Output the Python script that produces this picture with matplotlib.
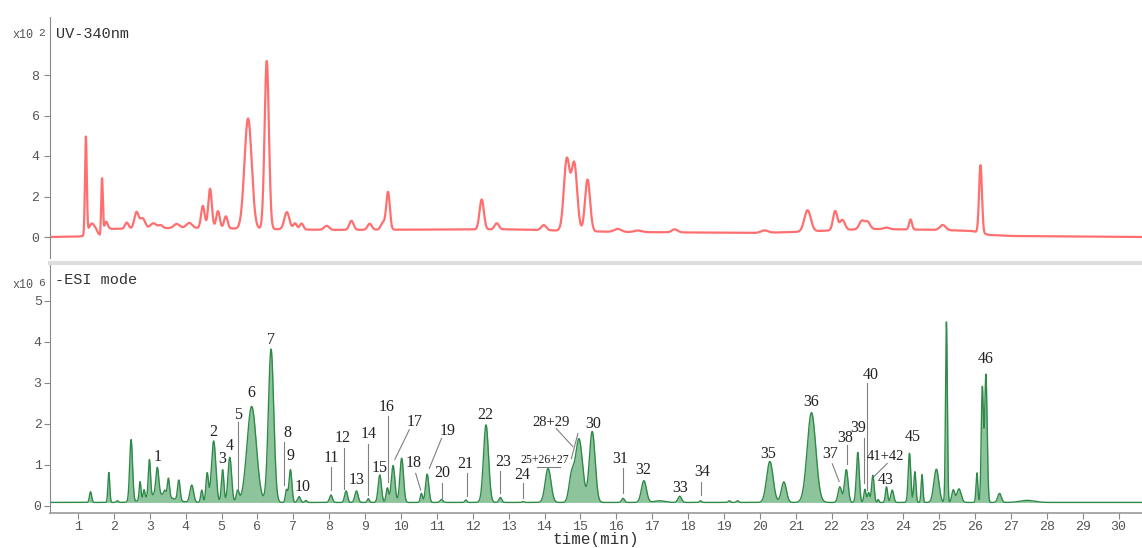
import matplotlib
matplotlib.use("Agg")
import matplotlib.pyplot as plt
import numpy as np

# ---- UV-340nm trace (x10^2): peak centre (min), height above baseline, width (min)
uv_rt = [1.22, 1.38, 1.67, 1.78, 2.36, 2.63, 2.80, 3.10, 3.30, 3.75, 4.10,
         4.48, 4.68, 4.90, 5.12, 5.74, 6.26, 6.82, 7.05, 7.23, 7.93, 8.62,
         9.13, 9.50, 9.64, 12.25, 12.67, 13.98, 14.62, 14.83, 15.20, 16.04,
         16.60, 17.63, 20.13, 21.33, 22.10, 22.30, 22.84, 23.00, 23.53,
         24.20, 25.10, 26.15]
uv_h = [4.80, 0.45, 2.75, 0.50, 0.30, 0.80, 0.50, 0.25, 0.15, 0.20, 0.25,
        1.10, 1.95, 0.85, 0.60, 5.45, 8.30, 0.85, 0.30, 0.30, 0.20, 0.45,
        0.30, 0.35, 1.85, 1.48, 0.30, 0.25, 3.50, 3.30, 2.55, 0.15,
        0.08, 0.15, 0.12, 1.05, 0.95, 0.50, 0.40, 0.35, 0.08,
        0.50, 0.25, 3.35]
uv_w = [0.025, 0.08, 0.022, 0.05, 0.05, 0.06, 0.07, 0.08, 0.06, 0.08, 0.08,
        0.05, 0.05, 0.05, 0.05, 0.10, 0.06, 0.07, 0.05, 0.05, 0.07, 0.06,
        0.06, 0.06, 0.05, 0.06, 0.06, 0.07, 0.08, 0.08, 0.07, 0.10,
        0.10, 0.08, 0.10, 0.09, 0.06, 0.07, 0.07, 0.07, 0.08,
        0.04, 0.08, 0.04]
uv_base_t = [0.2, 1.0, 1.15, 1.5, 1.62, 1.9, 4.0, 8.0, 13.0, 16.0, 20.0,
             21.0, 23.0, 25.0, 25.9, 26.4, 27.0, 30.7]
uv_base_y = [0.0, 0.02, 0.05, 0.30, 0.05, 0.40, 0.45, 0.35, 0.38, 0.25, 0.20,
             0.25, 0.40, 0.35, 0.30, 0.10, 0.05, 0.0]

# ---- -ESI mode trace (x10^6)
esi_rt = [1.35, 1.86, 2.10, 2.48, 2.73, 2.84, 2.99, 3.21, 3.42, 3.52, 3.81,
          3.25, 4.17, 4.45, 4.60, 4.78, 5.03, 5.23, 5.45, 5.84, 6.38, 6.81,
          6.92, 7.16, 7.35, 8.05, 8.47, 8.76, 9.09, 9.41, 9.62, 9.78, 10.02,
          10.57, 10.73, 11.13, 11.81, 12.37, 12.77, 13.40, 14.10, 14.75,
          14.96, 15.33, 16.19, 16.77, 17.20, 17.77, 18.35, 19.15, 19.38,
          20.28, 20.67, 21.44, 22.23, 22.41, 22.73, 22.93, 23.03, 23.15,
          23.30, 23.53, 23.69, 24.17, 24.32, 24.52, 24.92, 25.20, 25.39,
          25.55, 26.05, 26.20, 26.30, 26.68, 27.45]
esi_h = [0.26, 0.73, 0.04, 1.52, 0.45, 0.22, 0.90, 0.66, 0.12, 0.45, 0.50,
         0.20, 0.42, 0.30, 0.71, 1.50, 0.80, 1.10, 0.28, 2.34, 3.74, 0.30,
         0.80, 0.14, 0.05, 0.18, 0.28, 0.28, 0.09, 0.67, 0.35, 0.90, 1.08,
         0.22, 0.69, 0.07, 0.06, 1.89, 0.12, 0.02, 0.83, 0.60,
         1.55, 1.73, 0.10, 0.53, 0.04, 0.15, 0.04, 0.04, 0.04,
         1.00, 0.50, 2.19, 0.38, 0.80, 1.22, 0.32, 0.24, 0.66,
         0.07, 0.38, 0.30, 1.20, 0.75, 0.68, 0.81, 4.41, 0.30,
         0.33, 0.72, 2.78, 3.12, 0.22, 0.05]
esi_w = [0.03, 0.025, 0.03, 0.04, 0.025, 0.025, 0.03, 0.04, 0.03, 0.03, 0.035,
         0.33, 0.05, 0.03, 0.035, 0.06, 0.035, 0.05, 0.04, 0.13, 0.075, 0.03,
         0.04, 0.04, 0.03, 0.04, 0.04, 0.045, 0.03, 0.045, 0.035, 0.05, 0.05,
         0.03, 0.045, 0.04, 0.03, 0.07, 0.04, 0.03, 0.08, 0.07,
         0.10, 0.08, 0.04, 0.07, 0.15, 0.05, 0.03, 0.03, 0.03,
         0.09, 0.07, 0.12, 0.05, 0.05, 0.04, 0.03, 0.03, 0.035,
         0.02, 0.03, 0.04, 0.035, 0.03, 0.025, 0.07, 0.025, 0.04,
         0.06, 0.025, 0.03, 0.035, 0.05, 0.20]
esi_base = 0.08

# ---- peak labels (text, x, y, size) and leader lines (x0, y0, x1, y1)
lab_text = ["1", "2", "3", "4", "5", "6", "7", "8", "9", "10", "11", "12",
            "13", "14", "15", "16", "17", "18", "19", "20", "21", "22", "23",
            "24", "25+26+27", "28+29", "30", "31", "32", "33", "34", "35",
            "36", "37", "38", "39", "40", "41+42", "43", "45", "46"]
lab_x = [3.21, 4.78, 5.02, 5.23, 5.45, 5.84, 6.38, 6.83, 6.92, 7.25, 8.05,
         8.37, 8.76, 9.09, 9.41, 9.60, 10.37, 10.34, 11.30, 11.15, 11.80,
         12.34, 12.85, 13.38, 14.02, 14.19, 15.35, 16.12, 16.75, 17.77,
         18.40, 20.23, 21.44, 21.97, 22.37, 22.74, 23.09, 23.50, 23.51,
         24.25, 26.29]
lab_y = [1.18, 1.80, 1.14, 1.46, 2.21, 2.74, 4.04, 1.78, 1.20, 0.46, 1.17,
         1.64, 0.63, 1.75, 0.91, 2.40, 2.03, 1.03, 1.83, 0.79, 1.02,
         2.21, 1.07, 0.75, 1.12, 2.02, 2.00, 1.13, 0.87, 0.44,
         0.81, 1.26, 2.54, 1.25, 1.66, 1.89, 3.19, 1.20, 0.63,
         1.67, 3.57]
lab_size = [11.5] * 24 + [8.5, 10.5] + [11.5] * 11 + [10.5] + [11.5] * 3
leaders = [(5.45, 2.05, 5.45, 0.38), (6.75, 1.56, 6.75, 0.50),
           (8.05, 0.94, 8.05, 0.38), (8.41, 1.41, 8.41, 0.40),
           (9.07, 1.50, 9.07, 0.26), (9.64, 2.19, 9.64, 0.59),
           (10.23, 1.85, 9.83, 1.13), (10.41, 0.79, 10.55, 0.38),
           (11.13, 1.64, 10.79, 0.91), (11.13, 0.56, 11.13, 0.20),
           (11.83, 0.79, 11.83, 0.24), (12.77, 0.85, 12.77, 0.30),
           (13.40, 0.56, 13.40, 0.18), (13.78, 0.95, 14.43, 0.95),
           (14.33, 1.88, 14.79, 1.44), (14.93, 1.76, 14.75, 1.15),
           (16.19, 0.91, 16.19, 0.32), (18.35, 0.59, 18.35, 0.26),
           (22.02, 1.02, 22.21, 0.59), (22.43, 1.48, 22.43, 1.02),
           (22.90, 1.64, 22.90, 0.56), (22.98, 3.00, 22.98, 0.38),
           (23.55, 1.03, 23.18, 0.71)]

x_ticks = list(range(1, 31))


def trace(t, rt, h, w):
    y = np.zeros_like(t)
    for c, a, s in zip(rt, h, w):
        y += a * np.exp(-0.5 * ((t - c) / s) ** 2)
    return y


t = np.linspace(0.22, 30.65, 8000)
uv = np.interp(t, uv_base_t, uv_base_y) + trace(t, uv_rt, uv_h, uv_w)
esi = esi_base + trace(t, esi_rt, esi_h, esi_w)

mono = "Liberation Mono"
serif = "Liberation Serif"
tick_col = "#555555"

fig = plt.figure(figsize=(11.42, 5.48), dpi=100)
W, H = 1142.0, 548.0

# top panel
ax1 = fig.add_axes([50 / W, 1 - 258 / H, (1142 - 50) / W, (258 - 17) / H])
ax1.plot(t, uv, color="#ff6f6f", lw=1.6)
ax1.set_xlim(0.22, 30.65)
ax1.set_ylim((237 - 258) / 20.25, (237 - 17) / 20.25)
ax1.set_yticks([0, 2, 4, 6, 8])
ax1.set_xticks([])
for s in ["top", "right", "bottom"]:
    ax1.spines[s].set_visible(False)
ax1.spines["left"].set_color("#888888")
ax1.tick_params(axis="y", direction="out", length=4, color="#888888",
                labelcolor=tick_col, labelsize=9.5)
for lb in ax1.get_yticklabels():
    lb.set_family(mono)
fig.text(12 / W, 1 - 38 / H, "x10", fontsize=8.5, family=mono, color=tick_col)
fig.text(38 / W, 1 - 36 / H, "2", fontsize=8, family=mono, color=tick_col)
fig.text(56 / W, 1 - 38 / H, "UV-340nm", fontsize=11, family=mono, color="#333333")

# bottom panel
ax2 = fig.add_axes([50 / W, 1 - 512.7 / H, (1142 - 50) / W, (512.7 - 263) / H])
ax2.plot(t, esi, color="#2f8a4a", lw=1.0)
ax2.fill_between(t, esi_base, esi, color="#8dc49c", lw=0)
ax2.set_xlim(0.22, 30.65)
ax2.set_ylim((505.7 - 512.7) / 41, (505.7 - 263) / 41)
ax2.set_yticks([0, 1, 2, 3, 4, 5])
ax2.set_xticks(x_ticks)
ax2.spines["right"].set_visible(False)
ax2.spines["top"].set_color("#dddddd")
ax2.spines["top"].set_linewidth(3)
ax2.spines["left"].set_color("#888888")
ax2.spines["bottom"].set_color("#999999")
ax2.spines["bottom"].set_linewidth(1.2)
ax2.tick_params(direction="out", length=4, pad=2, color="#888888",
                labelcolor=tick_col, labelsize=9.5)
for lb in ax2.get_yticklabels() + ax2.get_xticklabels():
    lb.set_family(mono)
ax2.set_xlabel("time(min)", family=mono, fontsize=11.5, color="#333333", labelpad=-1)
fig.text(12 / W, 1 - 288 / H, "x10", fontsize=8.5, family=mono, color=tick_col)
fig.text(38 / W, 1 - 286 / H, "6", fontsize=8, family=mono, color=tick_col)
fig.text(55 / W, 1 - 284 / H, "-ESI mode", fontsize=11, family=mono, color="#333333")

for x0, y0, x1, y1 in leaders:
    ax2.plot([x0, x1], [y0, y1], color="#808080", lw=0.8)
for s, x, y, fs in zip(lab_text, lab_x, lab_y, lab_size):
    ax2.text(x, y, s, ha="center", va="center", family=serif, fontsize=fs,
             color="#222222")

fig.savefig("out.png", dpi=100)
